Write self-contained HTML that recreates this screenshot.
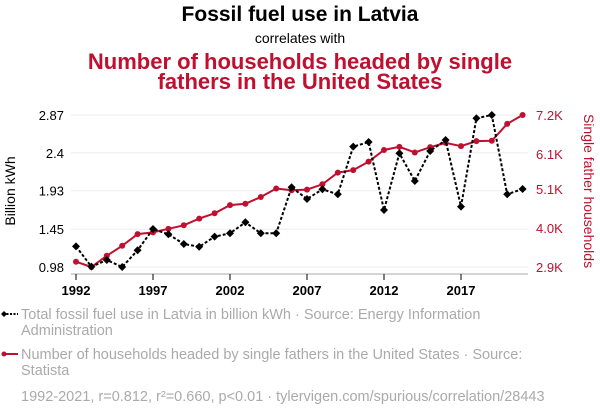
<!DOCTYPE html>
<html><head><meta charset="utf-8"><style>
body{margin:0;background:#fff;}
svg{display:block;font-family:"Liberation Sans",sans-serif;}
</style></head><body>
<svg id="chart" width="600" height="414" viewBox="0 0 600 414" xmlns="http://www.w3.org/2000/svg">
<text x="300" y="21" text-anchor="middle" font-size="21" font-weight="bold" fill="#000">Fossil fuel use in Latvia</text>
<text x="300" y="43" text-anchor="middle" font-size="14" fill="#000">correlates with</text>
<text x="300" y="69" text-anchor="middle" font-size="22" font-weight="bold" fill="#c0102f">Number of households headed by single</text>
<text x="300" y="89" text-anchor="middle" font-size="22" font-weight="bold" fill="#c0102f">fathers in the United States</text>
<g id="grid"></g>
<g id="axes"></g>
<g id="marks"></g>
<text transform="translate(15,191) rotate(-90)" text-anchor="middle" font-size="14" fill="#000">Billion kWh</text>
<text transform="translate(584,191) rotate(90)" text-anchor="middle" font-size="14" fill="#c0102f">Single father households</text>
<g>
<line x1="3" y1="314" x2="18" y2="314" stroke="#000" stroke-width="2" stroke-dasharray="2,1.5"/>
<path d="M4 311 L7 314 L4 317 L1 314Z" fill="#000"/>
<text x="21" y="319" font-size="14.5" fill="#aaa">Total fossil fuel use in Latvia in billion kWh · Source: Energy Information</text>
<text x="21" y="335" font-size="14.5" fill="#aaa">Administration</text>
</g>
<g>
<line x1="3" y1="354" x2="18" y2="354" stroke="#c0102f" stroke-width="2"/>
<circle cx="4" cy="354" r="2.5" fill="#c0102f"/>
<text x="21" y="359" font-size="14.5" fill="#aaa">Number of households headed by single fathers in the United States · Source:</text>
<text x="21" y="375" font-size="14.5" fill="#aaa">Statista</text>
</g>
<text x="21" y="401" font-size="14.5" fill="#aaa">1992-2021, r=0.812, r²=0.660, p&lt;0.01 · tylervigen.com/spurious/correlation/28443</text>
</svg>
<script>
const years=[1992,1993,1994,1995,1996,1997,1998,1999,2000,2001,2002,2003,2004,2005,2006,2007,2008,2009,2010,2011,2012,2013,2014,2015,2016,2017,2018,2019,2020,2021];
const fossil=[1.237,0.984,1.067,0.98,1.188,1.452,1.387,1.266,1.232,1.357,1.399,1.536,1.399,1.399,1.971,1.826,1.946,1.884,2.476,2.534,1.689,2.394,2.049,2.422,2.559,1.730,2.829,2.87,1.884,1.95];
const fathers=[3.05,2.90,3.22,3.50,3.83,3.88,3.98,4.08,4.27,4.42,4.65,4.69,4.88,5.12,5.07,5.09,5.24,5.57,5.64,5.88,6.21,6.30,6.14,6.29,6.41,6.32,6.46,6.47,6.95,7.20];
const leftTicks=[0.98,1.45,1.93,2.4,2.87];
const leftTickLabels=["0.98","1.45","1.93","2.4","2.87"];
const rightTicks=[2.9,4.0,5.1,6.1,7.2];
const rightTickLabels=["2.9K","4.0K","5.1K","6.1K","7.2K"];
const xTicks=[1992,1997,2002,2007,2012,2017];
const NS="http://www.w3.org/2000/svg";
const x=y=>76+(y-1992)*15.4;
const yL=v=>267-(v-0.98)/(2.87-0.98)*152;
const yR=v=>267-(v-2.9)/(7.2-2.9)*152;
function mk(tag,attrs,parent){const e=document.createElementNS(NS,tag);for(const k in attrs)e.setAttribute(k,attrs[k]);document.getElementById(parent).appendChild(e);return e;}
leftTicks.forEach((t,i)=>{
  const g=mk('line',{x1:71,x2:528,y1:yL(t),y2:yL(t),stroke:'#eee','stroke-width':1},'grid');
  
  
  const l=mk('text',{x:64,y:yL(t)+5,'text-anchor':'end','font-size':13,fill:'#000'},'axes');
  l.textContent=leftTickLabels[i];
  
  
});
rightTicks.forEach((t,i)=>{
  const l=mk('text',{x:536,y:yR(t)+5,'font-size':13,fill:'#c0102f'},'axes');
  l.textContent=rightTickLabels[i];
  
  
});
const ax=mk('line',{x1:71,x2:528,y1:274,y2:274,stroke:'#aaa','stroke-width':1},'axes');


xTicks.forEach(t=>{
  const tk=mk('line',{x1:x(t),x2:x(t),y1:274,y2:280,stroke:'#000','stroke-width':1},'axes');
  
  
  const l=mk('text',{x:x(t),y:295,'text-anchor':'middle','font-size':13,'font-weight':'bold',fill:'#000'},'axes');
  l.textContent=t;
  
  
});
const rl=mk('polyline',{points:years.map((y,i)=>x(y)+','+yR(fathers[i])).join(' '),fill:'none',stroke:'#c0102f','stroke-width':2},'marks');


years.forEach((y,i)=>{
  const c=mk('circle',{cx:x(y),cy:yR(fathers[i]),r:3,fill:'#c0102f'},'marks');
  
  
});
const bl=mk('polyline',{points:years.map((y,i)=>x(y)+','+yL(fossil[i])).join(' '),fill:'none',stroke:'#000','stroke-width':2,'stroke-dasharray':'3,2'},'marks');


years.forEach((y,i)=>{
  const cx=x(y),cy=yL(fossil[i]);
  const p=mk('path',{d:`M${cx} ${cy-4}L${cx+4} ${cy}L${cx} ${cy+4}L${cx-4} ${cy}Z`,fill:'#000'},'marks');
  
  
});
</script>
</body></html>
